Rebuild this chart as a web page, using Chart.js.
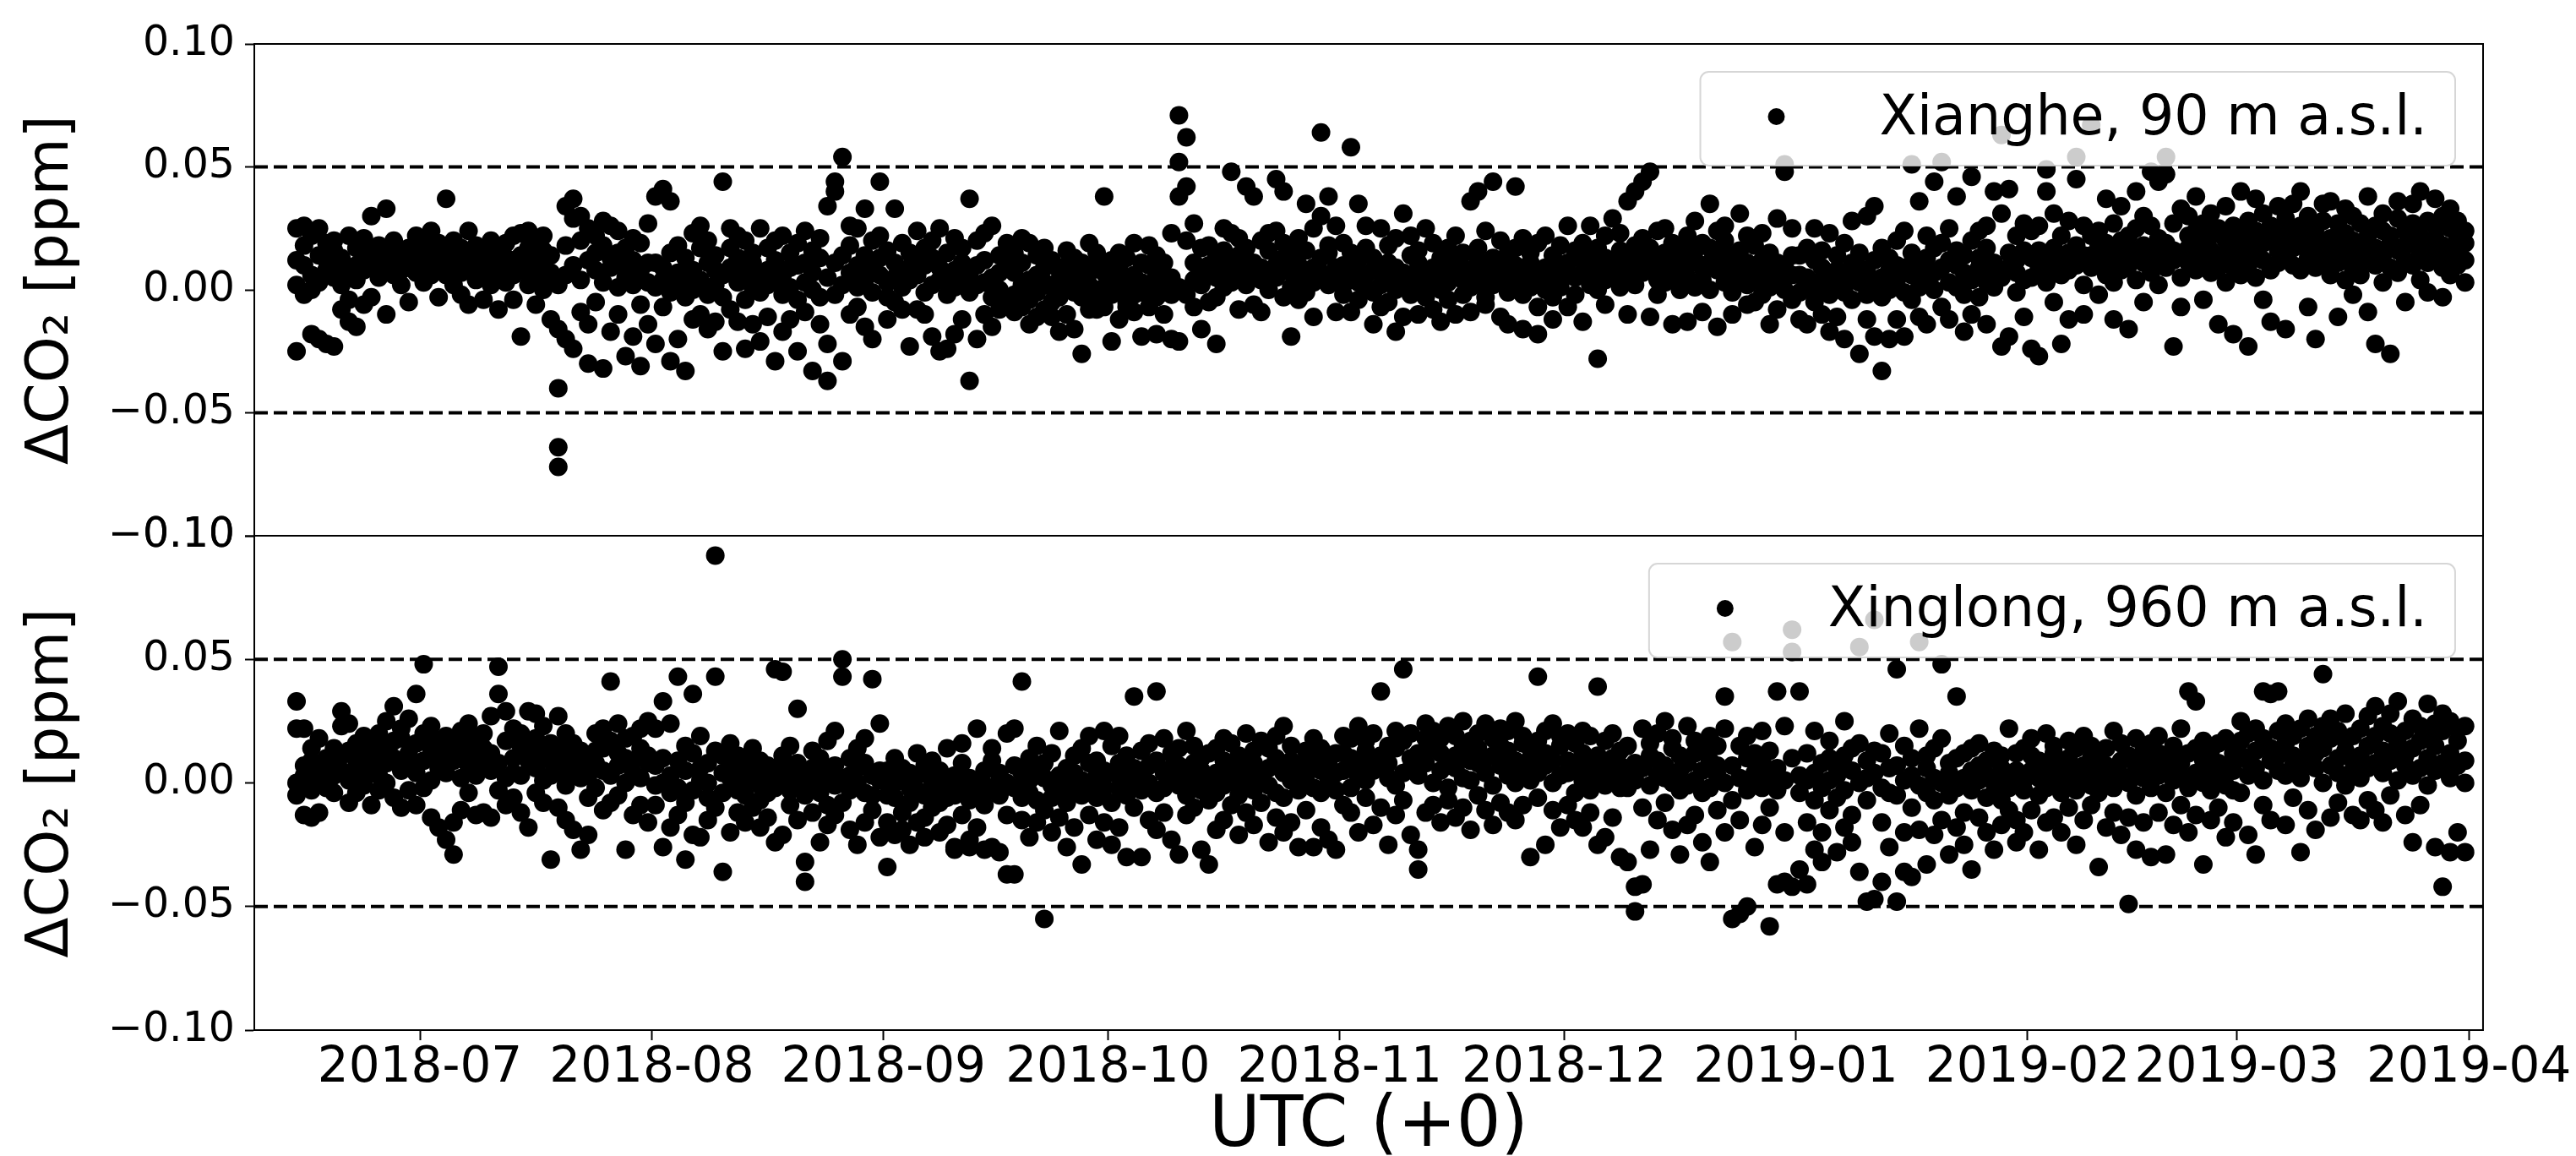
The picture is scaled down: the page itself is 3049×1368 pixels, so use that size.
<!DOCTYPE html>
<html>
<head>
<meta charset="utf-8">
<script src="https://cdn.jsdelivr.net/npm/chart.js@4.4.1/dist/chart.umd.min.js"></script>
<style>
  html, body { margin: 0; background: #fff; }
  #wrap { position: relative; width: 3049px; height: 1368px; }
  #wrap canvas { position: absolute; left: 0; top: 0; }
</style>
</head>
<body>
<div id="wrap">
  <canvas id="xianghe-chart" width="3049" height="1368"></canvas>
  <canvas id="xinglong-chart" width="3049" height="1368"></canvas>
</div>
<script>
// Delta CO2 (ppm) per site, one small list per day, values in 1/1000 ppm.
// First list is 2018-06-14, the x axis counts days from 2018-07-01.
const firstDay = -17;

const xiangheDaily = [
  [-25,2,12,25],[10,18,26,-2],[6,22,0,-18],[25,14,3,-20],[19,-22,8,12],[-23,5,16,20],[-8,2,13,9],[-13,22,7,-4],[10,-15,17,4],[-6,12,21,8],
  [9,15,-3,30],[13,5,18,11],[-10,8,14,33],[12,6,20,16],[2,10,15,8],[17,9,-5,13],[7,14,11,22],[12,3,18,9],[10,16,6,24],[-3,13,8,19],
  [37,11,6,15],[9,14,2,20],[12,-2,17,7],[15,8,24,-6],[4,18,10,13],[11,-4,16,6],[20,9,2,14],[7,15,-8,11],[13,3,19,9],[-4,12,22,6],
  [-19,8,14,23],[10,2,17,24],[5,21,12,-6],[9,0,16,22],[3,-12,14,7],[-64,-72,-40,2,-16],[34,18,-20,6],[29,-24,10,37],[20,-9,30,4],[-14,25,12,-30],
  [15,-5,22,8],[-32,18,3,28],[9,-17,13,26],[24,1,-10,15],[5,17,-27,10],[-19,12,21,2],[-31,8,-6,19],[11,27,3,-14],[1,-22,11,38],[41,9,-7,4],
  [36,15,-29,-1],[7,-20,2,18],[-33,13,-3,5],[23,0,8,-12],[17,4,26,-10],[-2,11,-16,20],[14,2,-13,8],[44,6,-25,-3],[9,-8,17,25],[3,13,-13,22],
  [20,-4,-24,7],[-14,11,1,15],[25,-1,-21,6],[8,17,-11,2],[-29,4,12,20],[6,22,-2,-17],[15,-12,1,9],[-25,10,19,-4],[3,-9,24,11],[16,-33,7,0],
  [-3,13,-14,21],[34,5,-37,-22],[40,44,11,-2],[54,2,-29,14],[7,-10,18,26],[1,25,10,-7],[14,33,4,-15],[-20,8,20,-1],[44,6,22,13],[3,-12,16,-3],
  [11,33,-5,5],[19,-8,8,1],[-23,15,4,9],[6,24,-8,12],[-1,10,17,-10],[13,-19,2,20],[9,-25,4,25],[-24,5,15,-2],[1,21,-18,8],[17,4,-12,11],
  [37,-37,6,-1],[10,-20,20,2],[3,12,-10,23],[26,5,-3,-15],[0,14,7,-8],[19,-5,9,-4],[-2,7,-9,15],[11,-7,2,21],[-14,4,19,-4],[6,14,-11,-1],
  [-8,9,17,3],[1,-11,12,-5],[8,-3,-17,4],[-10,16,2,10],[13,-16,-1,6],[-26,4,11,-3],[2,19,-8,7],[-4,-8,10,15],[38,1,-7,7],[-21,5,-2,12],
  [9,-12,15,0],[-5,13,-7,4],[6,-9,19,-2],[-19,3,11,-1],[10,18,-7,1],[-18,-3,6,14],[4,-10,-1,11],[-2,23,-20,5],[71,52,38,-21,1],[62,42,20,-2],
  [11,-7,27,4],[2,9,-16,17],[18,6,-5,10],[-3,14,-22,5],[9,1,16,25],[48,23,3,12],[8,-8,14,21],[42,17,2,6],[38,11,-6,7],[4,20,9,-9],
  [16,0,23,8],[45,24,5,10],[40,13,-3,19],[-19,7,15,1],[21,4,10,-4],[35,16,-1,6],[9,25,3,-11],[64,30,7,13],[38,15,2,18],[26,6,-9,9],
  [10,19,-2,2],[58,8,-9,15],[35,3,12,-4],[17,26,1,6],[-14,8,-1,13],[25,2,10,-7],[5,18,-5,11],[-17,9,0,21],[31,7,-11,3],[14,-2,22,6],
  [-10,11,2,16],[4,25,-3,8],[19,-8,9,1],[0,13,5,-13],[10,-4,17,3],[7,22,-10,12],[-2,9,15,4],[36,6,1,-9],[40,12,3,17],[8,24,-3,-6],
  [44,13,2,7],[20,5,11,-11],[-14,9,-1,15],[42,17,4,10],[-16,6,-2,21],[11,1,15,3],[-18,7,19,-7],[4,22,9,0],[14,-3,-12,5],[1,10,18,6],
  [-7,11,6,26],[16,-2,14,5],[19,7,-13,12],[26,2,10,15],[-28,8,17,0],[13,22,4,-6],[9,29,6,11],[1,16,23,8],[36,12,5,-10],[40,18,9,2],
  [44,21,7,14],[48,10,-11,17],[24,4,12,-2],[15,25,3,9],[-14,11,19,6],[7,17,0,13],[22,5,-13,10],[12,28,1,16],[4,19,9,-9],[35,11,0,17],
  [8,24,15,-15],[20,3,10,26],[-10,14,7,-1],[16,31,5,10],[2,11,22,-6],[8,18,-5,4],[-2,12,6,23],[-14,7,15,1],[29,4,11,-8],[51,48,10,0],
  [14,25,-4,6],[-12,-1,14,6],[17,5,-14,1],[0,12,25,-5],[9,-10,4,16],[23,-2,7,-17],[2,14,-11,8],[-20,6,19,-1],[11,-4,28,4],[-26,3,9,15],
  [7,30,-2,-12],[34,-19,1,12],[-33,5,17,-3],[13,-20,0,8],[20,4,-12,10],[-19,9,-1,24],[51,6,15,-4],[36,10,1,-11],[5,22,-14,13],[44,17,0,7],
  [52,9,-7,19],[12,25,3,-12],[38,1,10,16],[-17,7,-2,14],[46,20,4,-10],[9,24,-3,13],[-14,3,17,26],[40,11,1,7],[63,31,-23,5],[41,15,-19,9],
  [7,22,-1,12],[27,-11,4,16],[5,-24,13,24],[-27,9,26,16],[49,40,3,11],[17,31,-5,7],[-22,12,22,6],[28,8,-12,15],[54,45,10,18],[14,26,-10,2],
  [67,22,9,14],[24,13,-2,18],[37,6,19,11],[-12,15,27,3],[20,34,8,13],[10,-16,22,17],[40,14,4,25],[18,30,11,-5],[48,26,7,15],[44,13,21,2],
  [54,47,19,9],[27,-23,12,16],[15,33,5,-7],[22,11,30,17],[38,8,14,24],[-4,19,27,12],[31,16,7,22],[14,-14,25,9],[20,34,11,3],[-18,17,26,9],
  [40,13,22,6],[-23,18,10,28],[37,15,24,5],[12,31,19,-4],[26,8,-13,21],[34,16,23,11],[-16,20,13,29],[24,10,35,17],[40,18,8,26],[13,22,30,-7],
  [-20,16,25,9],[28,12,19,35],[36,21,6,15],[18,-11,27,11],[33,14,23,4],[20,9,30,-2],[15,27,18,6],[38,22,-9,12],[-22,17,26,10],[24,31,14,3],
  [-26,19,9,22],[29,16,36,7],[12,24,-5,18],[35,20,10,27],[40,15,22,4],[17,28,-1,11],[37,21,13,26],[30,9,18,-3],[14,25,33,6],[10,21,16,28],
  [19,3,24,12]
];

const xinglongDaily = [
  [33,22,0,-5],[22,7,3,-13],[14,-3,9,-14],[5,18,-12,1],[10,2,6,-2],[14,8,-4,3],[29,23,5,11],[24,1,-8,13],[9,16,-4,6],[2,12,19,-1],
  [15,7,-9,11],[20,3,12,-3],[8,25,14,0],[31,10,-6,17],[18,5,22,-10],[12,-3,7,26],[36,16,4,-9],[48,20,9,-2],[14,23,1,-14],[6,17,-18,10],
  [-23,11,19,4],[-29,9,15,-16],[13,2,21,-11],[7,16,-4,24],[-13,11,3,18],[20,-12,6,14],[27,12,-14,5],[47,36,8,-3],[17,29,2,-9],[10,-6,22,4],
  [15,3,-12,20],[-18,9,14,29],[6,18,28,-4],[12,-8,23,1],[-31,9,16,3],[27,5,-10,14],[-1,11,20,-15],[8,-19,4,16],[-27,13,2,7],[3,-21,10,-6],
  [20,-2,8,13],[14,5,-11,22],[41,17,3,-8],[12,24,-5,7],[-27,10,18,0],[19,4,-13,9],[-9,14,22,2],[8,-16,11,25],[-1,22,-9,7],[10,-26,0,33],
  [24,3,-18,-4],[43,9,-13,-2],[-31,5,15,-8],[36,12,-3,-21],[1,19,-22,6],[-6,8,-15,0],[92,43,13,-10],[-36,4,-4,11],[2,-20,7,16],[-3,11,-12,4],
  [-16,0,8,-5],[5,-10,14,1],[-1,9,-18,-7],[7,-4,-14,3],[46,-24,-2,6],[45,2,-21,11],[-9,5,-3,15],[30,-15,0,8],[-40,-32,3,-5],[6,-12,13,-2],
  [-24,1,-4,10],[17,4,-17,-9],[-1,7,21,-13],[50,43,2,-8],[10,-3,-19,3],[-25,6,0,14],[-4,-16,8,18],[42,3,-11,-5],[5,-22,1,24],[-34,-5,5,-16],
  [0,-21,-6,10],[6,-12,1,-19],[-8,4,-25,-2],[12,-3,-16,3],[-14,7,-5,-22],[1,-10,9,-2],[-20,-4,5,-8],[14,-17,-1,-6],[-27,3,-5,-26],[-2,8,-13,16],
  [-23,-7,2,-26],[22,0,-18,-4],[-27,5,-9,-1],[9,-26,-3,14],[-5,-28,4,1],[-37,0,20,-13],[-37,-2,7,22],[41,4,-15,-6],[1,-22,10,-4],[-16,5,-7,15],
  [-55,2,-11,8],[-1,-20,12,-6],[21,3,-14,-4],[-26,0,6,-8],[-3,11,-18,4],[-33,-5,1,14],[8,-13,19,0],[3,-23,-6,9],[21,-2,-16,5],[-8,15,4,-25],
  [8,-2,-18,19],[2,-30,11,-5],[35,6,-10,1],[-30,3,13,-3],[7,-15,0,16],[37,9,-4,-19],[-12,4,18,-2],[12,-23,2,6],[-29,-1,7,14],[3,21,-13,-5],
  [8,-10,15,0],[-27,5,-3,10],[-33,1,12,-7],[14,-4,4,-19],[-1,-15,9,18],[6,16,-9,2],[-21,0,11,-5],[20,7,-12,3],[-3,13,-17,8],[2,-8,17,5],
  [-24,6,-1,14],[10,-4,-14,19],[23,4,-6,-20],[-16,9,1,15],[0,-26,7,-3],[13,3,-11,6],[-26,-2,10,18],[5,-18,14,-4],[8,1,-23,3],[-27,12,-3,4],
  [5,-9,19,12],[18,-2,-12,10],[-20,7,23,2],[1,13,-6,17],[9,-17,5,20],[37,6,-10,11],[-25,2,15,8],[14,-13,21,-1],[46,17,-7,4],[10,-21,6,20],
  [-35,3,12,-27],[18,8,-12,24],[0,14,21,-9],[12,-16,5,18],[23,7,-2,-7],[6,19,-14,11],[15,2,25,-10],[-19,9,17,1],[20,-5,8,14],[4,24,-11,10],
  [11,-1,18,-17],[22,7,-8,15],[-12,13,3,21],[9,25,0,-15],[16,-9,6,19],[-30,10,1,14],[43,17,4,-6],[7,-25,12,21],[24,0,9,-11],[-18,15,3,19],
  [9,20,-9,4],[16,-4,6,-15],[1,-18,12,21],[7,19,-3,-12],[39,11,3,-25],[-22,5,17,-1],[20,2,-14,10],[-2,13,7,-30],[-32,4,15,-2],[-52,-42,8,1],
  [-41,22,-10,6],[11,-27,-1,16],[3,20,-15,9],[25,7,-8,2],[-19,14,0,18],[5,-29,11,-3],[23,-1,-17,8],[-13,12,1,17],[14,-24,5,-4],[-32,9,-2,19],
  [7,-11,15,3],[35,22,-20,0],[57,-55,7,-7],[-53,15,2,-15],[-50,10,-3,19],[4,-26,12,-1],[21,-17,-2,9],[-58,3,13,-10],[37,-41,6,-3],[-40,23,1,-20],
  [62,53,-42,10],[37,-35,-4,3],[-41,12,-16,1],[21,-7,-27,4],[-20,8,-2,-32],[10,-11,17,1],[-28,3,-6,6],[25,-3,-18,11],[-13,14,5,-24],[55,16,-36,0],
  [-48,9,-7,2],[66,-47,4,13],[-40,-2,12,-16],[20,-26,-4,6],[46,-48,7,-5],[-36,1,15,-20],[10,-10,3,-38],[57,22,-1,-19],[-33,6,-4,11],[2,-21,14,-7],
  [48,18,0,-15],[8,-29,4,-5],[35,-2,-18,10],[-12,12,2,-25],[5,-35,-3,14],[16,1,-14,7],[-20,9,-6,3],[0,-27,13,-4],[11,-7,-17,6],[22,2,-11,-2],
  [-24,5,12,-15],[-3,14,-20,1],[11,-11,5,18],[-27,2,9,-5],[6,20,-16,-2],[-14,12,0,15],[8,-20,3,-4],[17,1,-10,10],[-25,5,-3,14],[2,19,-15,7],
  [10,-9,15,-1],[-34,4,-4,12],[14,-18,7,0],[21,-2,-12,5],[-21,9,3,16],[-49,0,11,-14],[6,18,-5,-27],[13,-16,2,8],[-30,7,-2,16],[3,-12,12,19],
  [-29,5,-4,9],[15,1,-17,10],[8,22,-9,3],[37,12,-2,-20],[33,4,-13,14],[-33,9,0,17],[6,-15,13,-3],[16,2,-10,8],[-22,7,18,-1],[12,-3,-16,5],
  [25,11,-4,17],[3,20,-21,9],[-29,13,6,22],[37,18,1,-9],[9,36,-15,14],[37,5,21,11],[-17,16,3,24],[19,-6,11,7],[-28,9,22,2],[15,26,-11,8],
  [6,19,12,-19],[44,14,0,23],[18,-14,7,26],[10,21,-8,4],[28,13,-1,17],[-13,9,19,5],[22,2,11,-15],[15,27,6,-7],[31,8,-11,19],[4,23,13,-16],
  [20,9,-5,28],[33,12,1,16],[7,21,-13,11],[-24,14,26,3],[23,6,17,-9],[32,10,19,-1],[-26,15,5,24],[-42,8,21,28],[-28,12,25,2],[-20,17,7,22],
  [-28,9,23,0]
];

const siteLabels = ['Xianghe, 90 m a.s.l.', 'Xinglong, 960 m a.s.l.'];
const monthLabels = ['2018-07','2018-08','2018-09','2018-10','2018-11','2018-12','2019-01','2019-02','2019-03','2019-04'];
const yTicks = [-0.10, -0.05, 0.00, 0.05, 0.10];
const limitLines = [0.05, -0.05];

// x range in days from 2018-07-01 (2018-06-08 ~21h to 2019-04-02 ~22h)
const xMin = -22.15;
const xMax = 275.9;

Chart.defaults.font.family = "'DejaVu Sans', sans-serif";
Chart.defaults.color = '#000';

const dayMs = 86400000;
const origin = Date.UTC(2018, 6, 1);
function monthToDay(label) {
  const [y, m] = label.split('-').map(Number);
  return (Date.UTC(y, m - 1, 1) - origin) / dayMs;
}
const monthDays = monthLabels.map(monthToDay);

function toPoints(daily) {
  const pts = [];
  daily.forEach((vals, i) => {
    vals.forEach(v => pts.push({ x: firstDay + i + 0.5, y: v / 1000 }));
  });
  return pts;
}

function formatTick(v) {
  const s = Math.abs(v).toFixed(2);
  return v < -1e-9 ? '\u2212' + s : s;
}

// frame round the plot area (matplotlib spines)
const framePlugin = {
  id: 'frame',
  beforeDatasetsDraw(chart) {
    const { ctx, chartArea: a } = chart;
    ctx.save();
    ctx.strokeStyle = '#000';
    ctx.lineWidth = 2;
    ctx.strokeRect(a.left, a.top, a.right - a.left, a.bottom - a.top);
    ctx.restore();
  }
};

// semi transparent legend box in the upper right corner
const siteLegendPlugin = {
  id: 'siteLegend',
  afterDraw(chart, args, opts) {
    const { ctx, chartArea: a } = chart;
    ctx.save();
    ctx.font = "65px 'DejaVu Sans'";
    const textW = ctx.measureText(opts.text).width;
    const right = a.right - 33;
    const left = right - 33 - textW - 212;
    const top = a.top + 33;
    const h = 111;
    ctx.beginPath();
    ctx.roundRect(left, top, right - left, h, 10);
    ctx.fillStyle = 'rgba(255,255,255,0.8)';
    ctx.fill();
    ctx.lineWidth = 2;
    ctx.strokeStyle = 'rgba(204,204,204,0.8)';
    ctx.stroke();
    ctx.fillStyle = '#000';
    ctx.beginPath();
    ctx.arc(left + 90, top + 53, 10, 0, Math.PI * 2);
    ctx.fill();
    ctx.textBaseline = 'alphabetic';
    ctx.textAlign = 'left';
    ctx.fillText(opts.text, left + 212, top + 74);
    ctx.restore();
  }
};

function makeChart(canvasId, daily, label, isBottom) {
  const lineSets = limitLines.map(v => ({
    type: 'line',
    data: [{ x: xMin, y: v }, { x: xMax, y: v }],
    borderColor: '#000',
    borderWidth: 4,
    borderDash: [16, 7],
    pointRadius: 0,
    order: 1
  }));

  return new Chart(document.getElementById(canvasId), {
    type: 'scatter',
    data: {
      datasets: [{
        label: label,
        data: toPoints(daily),
        backgroundColor: '#000',
        borderWidth: 0,
        pointRadius: 11,
        pointHoverRadius: 11,
        order: 0
      }, ...lineSets]
    },
    options: {
      responsive: false,
      animation: false,
      events: [],
      layout: {
        padding: isBottom
          ? { top: 634, right: 110, bottom: 0, left: 0 }
          : { top: 52, right: 110, bottom: 734, left: 0 }
      },
      plugins: {
        legend: { display: false },
        tooltip: { enabled: false },
        siteLegend: { text: label }
      },
      scales: {
        x: {
          type: 'linear',
          min: xMin,
          max: xMax,
          afterBuildTicks: s => { s.ticks = monthDays.map(v => ({ value: v })); },
          afterFit: s => { s.height = isBottom ? 149 : 0; },
          ticks: {
            display: isBottom,
            autoSkip: false,
            maxRotation: 0,
            padding: 5,
            color: '#000',
            font: { size: 58, lineHeight: 1 },
            callback: (v, i) => monthLabels[i]
          },
          grid: {
            drawOnChartArea: false,
            drawTicks: isBottom,
            tickLength: 12,
            tickWidth: 2,
            tickColor: '#000'
          },
          border: { display: true, color: '#000', width: 2 },
          title: {
            display: isBottom,
            text: 'UTC (+0)',
            color: '#000',
            font: { size: 83, lineHeight: 0.8 },
            padding: { top: 0, bottom: 0 }
          }
        },
        y: {
          min: -0.1,
          max: 0.1,
          afterBuildTicks: s => { s.ticks = yTicks.map(v => ({ value: v })); },
          afterFit: s => { s.width = 301; },
          ticks: {
            padding: 12,
            color: '#000',
            font: { size: 49 },
            callback: v => formatTick(v)
          },
          grid: {
            drawOnChartArea: false,
            tickLength: 11,
            tickWidth: 2,
            tickColor: '#000'
          },
          border: { display: true, color: '#000', width: 2 },
          title: {
            display: true,
            text: 'ΔCO₂ [ppm]',
            color: '#000',
            font: { size: 70 },
            padding: { top: 20, bottom: 0 }
          }
        }
      }
    },
    plugins: [framePlugin, siteLegendPlugin]
  });
}

makeChart('xianghe-chart', xiangheDaily, siteLabels[0], false);
makeChart('xinglong-chart', xinglongDaily, siteLabels[1], true);
</script>
</body>
</html>
